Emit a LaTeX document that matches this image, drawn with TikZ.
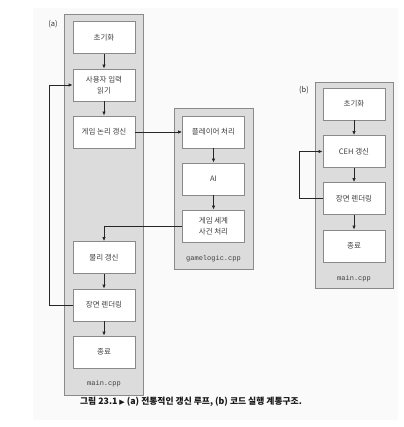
\documentclass[tikz,border=0pt]{standalone}
\usepackage{fontspec}
\setmainfont{Noto Sans CJK KR}
\newfontfamily\monof{Liberation Mono}
\newfontfamily\symf{DejaVu Sans}
\usetikzlibrary{arrows.meta}
\definecolor{panelgray}{HTML}{DCDCDC}
\definecolor{edgegray}{HTML}{8A8A8A}
\definecolor{txtgray}{HTML}{404040}
\tikzset{
  panel/.style={draw=edgegray, fill=panelgray, line width=0.8pt},
  stepbox/.style={draw=edgegray, fill=white, line width=0.8pt, minimum width=62pt, minimum height=32pt, inner sep=0pt, align=center, font=\fontsize{7.5}{10.5}\selectfont, text=txtgray},
  flow/.style={-{Latex[length=4pt,width=3.5pt]}, line width=0.8pt, black!85},
  filelabel/.style={font=\monof\fontsize{7}{8}\selectfont, text=txtgray},
  panellabel/.style={font=\fontsize{7.5}{8}\selectfont, text=black!80}
}
\begin{document}
\begin{tikzpicture}[x=1pt,y=-1pt]
\useasboundingbox (0,0) rectangle (403,427);
\fill[black!2] (33,8) rectangle (398,420);
% panel (a)
\draw[panel] (64,14) rectangle (143,395);
\node[panellabel] (la) at (53,24) {(a)};
\node[stepbox] (a1) at (104,37.5) {초기화};
\node[stepbox] (a2) at (104,85) {사용자 입력\\읽기};
\node[stepbox] (a3) at (104,132) {게임 논리 갱신};
\node[stepbox] (a4) at (104,257.5) {물리 갱신};
\node[stepbox] (a5) at (104,305) {장면 렌더링};
\node[stepbox] (a6) at (104,352) {종료};
\node[filelabel] (fa) at (104,384) {main.cpp};
% panel gamelogic
\draw[panel] (174,108) rectangle (253,269);
\node[stepbox] (g1) at (213.5,132) {플레이어 처리};
\node[stepbox] (g2) at (213.5,179) {AI};
\node[stepbox] (g3) at (213.5,226) {게임 세계\\사건 처리};
\node[filelabel] (fg) at (213.5,259) {gamelogic.cpp};
% panel (b)
\draw[panel] (315,82) rectangle (393,288);
\node[panellabel] (lb) at (304,90) {(b)};
\node[stepbox] (b1) at (354,104) {초기화};
\node[stepbox] (b2) at (354,151.5) {CEH 갱신};
\node[stepbox] (b3) at (354,198.5) {장면 렌더링};
\node[stepbox] (b4) at (354,246) {종료};
\node[filelabel] (fb) at (354,279) {main.cpp};
% arrows (a)
\draw[flow] (a1) -- (a2);
\draw[flow] (a2) -- (a3);
\draw[flow] (a4) -- (a5);
\draw[flow] (a5) -- (a6);
\draw[flow] (a5.west) -- (49,305) -- (49,85) -- (a2.west);
\draw[flow] (a3.east) -- (g1.west);
\draw[flow] (g1) -- (g2);
\draw[flow] (g2) -- (g3);
\draw[flow] (g3.west) -- (104,226) -- (a4.north);
% arrows (b)
\draw[flow] (b1) -- (b2);
\draw[flow] (b2) -- (b3);
\draw[flow] (b3) -- (b4);
\draw[flow] (b3.west) -- (299,198.5) -- (299,151.5) -- (b2.west);
% caption
\node[font=\bfseries\fontsize{8.8}{10}\selectfont, text=black!90] (cap) at (191,402) {그림 23.1 {\symf\fontsize{7}{8}\selectfont ▶} (a) 전통적인 갱신 루프, (b) 코드 실행 계통구조.};
\end{tikzpicture}
\end{document}
